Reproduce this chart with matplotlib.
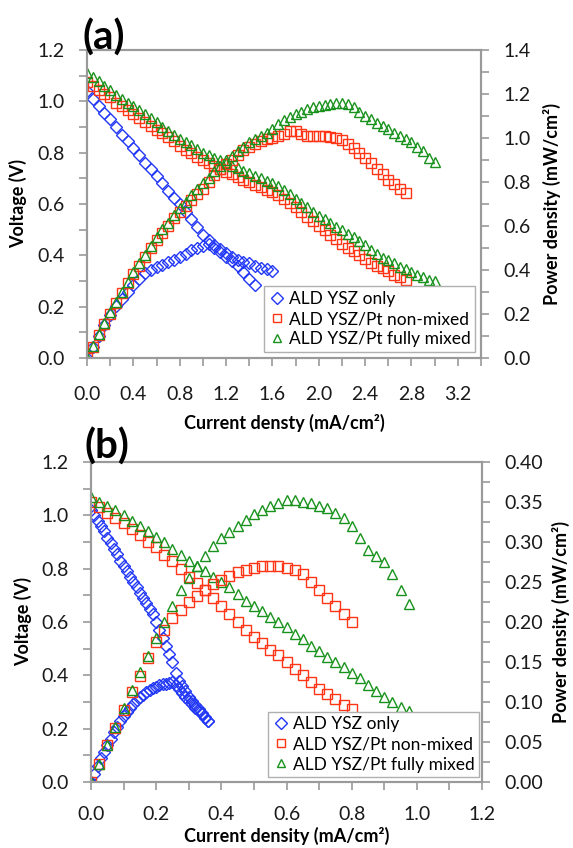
import matplotlib.pyplot as plt
from matplotlib.ticker import MultipleLocator, FormatStrFormatter

plt.rcParams['font.family'] = ['Lato', 'DejaVu Sans']

labels = ['ALD YSZ only', 'ALD YSZ/Pt non-mixed', 'ALD YSZ/Pt fully mixed']
colors = ['#2238f5', '#ff3516', '#18921c']
markers = ['D', 's', '^']
msizes = [6.0, 7.0, 7.5]

# ---- panel (a): current density grid (mA/cm2), each series uses the first N points
cur_a = [0.0, 0.05, 0.1, 0.15, 0.2, 0.25, 0.3, 0.35, 0.4, 0.45, 0.5, 0.55, 0.6, 0.65, 0.7,
         0.75, 0.8, 0.85, 0.9, 0.95, 1.0, 1.05, 1.1, 1.15, 1.2, 1.25, 1.3, 1.35, 1.4, 1.45,
         1.5, 1.55, 1.6, 1.65, 1.7, 1.75, 1.8, 1.85, 1.9, 1.95, 2.0, 2.05, 2.1, 2.15, 2.2,
         2.25, 2.3, 2.35, 2.4, 2.45, 2.5, 2.55, 2.6, 2.65, 2.7, 2.75, 2.8, 2.85, 2.9, 2.95, 3.0]

volt_a_blue = [1.04, 1.01, 0.98, 0.955, 0.93, 0.90, 0.87, 0.845, 0.82, 0.79, 0.76, 0.735,
               0.71, 0.68, 0.65, 0.625, 0.60, 0.57, 0.54, 0.51, 0.48, 0.46, 0.44, 0.425,
               0.41, 0.395, 0.38, 0.375, 0.37, 0.36, 0.35, 0.345, 0.34]
pow_a_blue = [0, 0.05, 0.10, 0.15, 0.195, 0.235, 0.27, 0.30, 0.33, 0.36, 0.385, 0.40,
              0.415, 0.425, 0.435, 0.445, 0.46, 0.475, 0.49, 0.50, 0.51, 0.52, 0.50, 0.48,
              0.46, 0.44, 0.42, 0.39, 0.36, 0.33]

volt_a_red = [1.075, 1.06, 1.045, 1.03, 1.015, 0.995, 0.98, 0.965, 0.95, 0.935,
              0.92, 0.905, 0.89, 0.875, 0.86, 0.845, 0.825, 0.81, 0.80, 0.785,
              0.77, 0.76, 0.75, 0.735, 0.725, 0.715, 0.705, 0.695, 0.685, 0.675,
              0.665, 0.655, 0.645, 0.635, 0.62, 0.605, 0.59, 0.57, 0.55, 0.535,
              0.515, 0.50, 0.48, 0.465, 0.445, 0.43, 0.415, 0.40, 0.385, 0.37,
              0.36, 0.35, 0.34, 0.325, 0.315, 0.305]
pow_a_red = [0, 0.05, 0.105, 0.155, 0.20, 0.25, 0.295, 0.34, 0.38, 0.42,
             0.46, 0.50, 0.535, 0.57, 0.60, 0.635, 0.665, 0.69, 0.72, 0.745,
             0.77, 0.80, 0.83, 0.86, 0.88, 0.90, 0.925, 0.945, 0.96, 0.975,
             0.985, 0.995, 1.0, 1.01, 1.02, 1.03, 1.03, 1.02, 1.01, 1.01,
             1.01, 1.01, 1.005, 1.0, 0.99, 0.975, 0.955, 0.93, 0.91, 0.885,
             0.86, 0.835, 0.81, 0.79, 0.77, 0.75]

volt_a_green = [1.11, 1.095, 1.08, 1.06, 1.045, 1.025, 1.01, 0.995, 0.98, 0.965,
                0.95, 0.935, 0.92, 0.90, 0.885, 0.87, 0.855, 0.84, 0.83, 0.815,
                0.80, 0.79, 0.78, 0.77, 0.76, 0.75, 0.74, 0.73, 0.72, 0.71,
                0.70, 0.69, 0.68, 0.67, 0.655, 0.64, 0.62, 0.605, 0.59, 0.57,
                0.555, 0.54, 0.525, 0.51, 0.50, 0.485, 0.47, 0.455, 0.44, 0.42,
                0.405, 0.39, 0.38, 0.37, 0.355, 0.345, 0.335, 0.325, 0.315, 0.305, 0.30]
pow_a_green = [0, 0.055, 0.11, 0.16, 0.21, 0.255, 0.30, 0.345, 0.39, 0.43,
               0.47, 0.51, 0.55, 0.585, 0.615, 0.65, 0.68, 0.71, 0.74, 0.77,
               0.795, 0.82, 0.85, 0.875, 0.90, 0.92, 0.94, 0.96, 0.98, 0.995,
               1.01, 1.025, 1.04, 1.065, 1.08, 1.095, 1.11, 1.12, 1.13, 1.14,
               1.145, 1.15, 1.155, 1.16, 1.16, 1.155, 1.14, 1.12, 1.10, 1.085,
               1.07, 1.055, 1.04, 1.025, 1.01, 0.995, 0.98, 0.96, 0.94, 0.91, 0.89]

# ---- panel (b)
cur_b_blue = [0.0, 0.01, 0.02, 0.03, 0.04, 0.05, 0.06, 0.07, 0.08, 0.09, 0.10, 0.11, 0.12,
              0.13, 0.14, 0.15, 0.16, 0.17, 0.18, 0.19, 0.20, 0.21, 0.22, 0.23, 0.24, 0.25,
              0.26, 0.27, 0.28, 0.29, 0.30, 0.31, 0.32, 0.33, 0.34, 0.35, 0.36]
volt_b_blue = [1.02, 1.00, 0.98, 0.96, 0.94, 0.915, 0.895, 0.875, 0.855, 0.83, 0.81, 0.79,
               0.77, 0.75, 0.73, 0.71, 0.69, 0.67, 0.65, 0.63, 0.60, 0.57, 0.54, 0.51,
               0.48, 0.45, 0.41, 0.38, 0.36, 0.34, 0.32, 0.305, 0.29, 0.275, 0.26, 0.245, 0.23]
pow_b_blue = [0, 0.01, 0.02, 0.03, 0.038, 0.046, 0.054, 0.062, 0.069, 0.076, 0.082, 0.088,
              0.093, 0.098, 0.102, 0.106, 0.109, 0.112, 0.115, 0.117, 0.119, 0.121, 0.122,
              0.123, 0.124, 0.125, 0.121, 0.116, 0.111, 0.106, 0.101, 0.097, 0.093, 0.089,
              0.085, 0.08, 0.076]

cur_b = [0.0, 0.025, 0.05, 0.075, 0.1, 0.125, 0.15, 0.175, 0.2, 0.225, 0.25, 0.275, 0.3,
         0.325, 0.35, 0.375, 0.4, 0.425, 0.45, 0.475, 0.5, 0.525, 0.55, 0.575, 0.6, 0.625,
         0.65, 0.675, 0.7, 0.725, 0.75, 0.775, 0.8, 0.825, 0.85, 0.875, 0.9, 0.925, 0.95, 0.975]
volt_b_red = [1.05, 1.03, 1.01, 0.99, 0.97, 0.95, 0.925, 0.90, 0.88, 0.85, 0.83, 0.80,
              0.77, 0.745, 0.72, 0.69, 0.66, 0.63, 0.60, 0.57, 0.545, 0.52, 0.495, 0.475,
              0.45, 0.425, 0.40, 0.375, 0.35, 0.33, 0.31, 0.29, 0.275]
pow_b_red = [0, 0.023, 0.046, 0.068, 0.09, 0.112, 0.133, 0.155, 0.175, 0.19, 0.205, 0.215,
             0.225, 0.233, 0.24, 0.247, 0.253, 0.258, 0.262, 0.265, 0.268, 0.27, 0.27,
             0.27, 0.268, 0.265, 0.26, 0.25, 0.24, 0.23, 0.22, 0.21, 0.20]
volt_b_green = [1.07, 1.05, 1.035, 1.02, 1.0, 0.98, 0.96, 0.94, 0.92, 0.90, 0.875, 0.85,
                0.83, 0.81, 0.79, 0.77, 0.75, 0.73, 0.705, 0.68, 0.66, 0.64, 0.62, 0.60,
                0.58, 0.555, 0.535, 0.51, 0.49, 0.47, 0.45, 0.43, 0.41, 0.39, 0.365, 0.34,
                0.32, 0.30, 0.28, 0.265]
pow_b_green = [0, 0.023, 0.046, 0.069, 0.092, 0.115, 0.137, 0.158, 0.18, 0.20, 0.22, 0.24,
               0.255, 0.27, 0.283, 0.295, 0.305, 0.313, 0.32, 0.328, 0.335, 0.34, 0.345,
               0.349, 0.352, 0.352, 0.35, 0.349, 0.345, 0.342, 0.336, 0.33, 0.32, 0.305,
               0.29, 0.283, 0.275, 0.26, 0.24, 0.223]

GRAY = '#9a9a9a'
W, H = 573, 848


def px_rect(left, top, right, bottom):
    return [left / W, 1 - bottom / H, (right - left) / W, (bottom - top) / H]


def style_axis(ax, xpad):
    for s in ax.spines.values():
        s.set_color(GRAY)
        s.set_linewidth(1.5)
    ax.tick_params(which='both', direction='out', color=GRAY, width=1.2, length=6,
                   labelsize=14, labelcolor='#1a1a1a')
    ax.tick_params(axis='x', pad=xpad)


def draw_panel(rect, xs, volts, pows, xmax, xmaj, pmax, pmaj, pfmt, xlabel, xpad, leg_anchor,
               xlab_y, ylab_x, ylab2_x):
    ax = fig.add_axes(rect)
    ax2 = ax.twinx()
    handles = []
    for i in range(3):
        h, = ax.plot(xs[i][:len(volts[i])], volts[i], linestyle='none', marker=markers[i],
                     ms=msizes[i], mfc='none', mec=colors[i], mew=1.0, label=labels[i])
        ax2.plot(xs[i][:len(pows[i])], pows[i], linestyle='none', marker=markers[i],
                 ms=msizes[i], mfc='none', mec=colors[i], mew=1.0)
        handles.append(h)

    ax.set_xlim(0, xmax)
    ax.set_ylim(0, 1.2)
    ax2.set_ylim(0, pmax)
    ax.xaxis.set_major_locator(MultipleLocator(xmaj))
    ax.xaxis.set_minor_locator(MultipleLocator(xmaj / 2))
    ax.xaxis.set_major_formatter(FormatStrFormatter('%.1f'))
    ax.yaxis.set_major_locator(MultipleLocator(0.2))
    ax.yaxis.set_minor_locator(MultipleLocator(0.1))
    ax.yaxis.set_major_formatter(FormatStrFormatter('%.1f'))
    ax2.yaxis.set_major_locator(MultipleLocator(pmaj))
    ax2.yaxis.set_minor_locator(MultipleLocator(pmaj / 2))
    ax2.yaxis.set_major_formatter(FormatStrFormatter(pfmt))

    style_axis(ax, xpad)
    style_axis(ax2, xpad)
    ax.tick_params(axis='y', pad=10)
    ax2.tick_params(axis='y', pad=10)

    ax.set_xlabel(xlabel, fontsize=13, fontweight='bold')
    ax.xaxis.set_label_coords(0.5, xlab_y)
    ax.set_ylabel('Voltage (V)', fontsize=13, fontweight='bold')
    ax.yaxis.set_label_coords(ylab_x, 0.5)
    ax2.set_ylabel('Power density (mW/cm²)', fontsize=13, fontweight='bold', rotation=90)
    ax2.yaxis.set_label_coords(ylab2_x, 0.5)

    leg = ax2.legend(handles=handles, loc='lower right', bbox_to_anchor=leg_anchor,
                     fontsize=12.5, frameon=True, fancybox=False, framealpha=1,
                     edgecolor='#b0b0b0', handlelength=1.0, handletextpad=0.2,
                     labelspacing=0.25, borderpad=0.25, borderaxespad=0)
    leg.get_frame().set_linewidth(1.0)
    for hl in leg.legend_handles:
        hl.set_markersize(6)
    return ax, ax2


fig = plt.figure(figsize=(W / 100, H / 100), dpi=100)

draw_panel(px_rect(87, 50, 481, 358), [cur_a, cur_a, cur_a],
           [volt_a_blue, volt_a_red, volt_a_green], [pow_a_blue, pow_a_red, pow_a_green],
           3.4, 0.4, 1.4, 0.2, '%.1f', 'Current densty (mA/cm²)', 14, (0.985, 0.02),
           -0.18, -0.152, 1.157)

draw_panel(px_rect(91, 462, 482, 782), [cur_b_blue, cur_b, cur_b],
           [volt_b_blue, volt_b_red, volt_b_green], [pow_b_blue, pow_b_red, pow_b_green],
           1.2, 0.2, 0.40, 0.05, '%.2f', 'Current density (mA/cm²)', 11, (0.992, 0.016),
           -0.14, -0.151, 1.18)

fig.text(82 / W, 1 - 38 / H, '(a)', fontsize=29, fontweight='bold', ha='left', va='center')
fig.text(84 / W, 1 - 447 / H, '(b)', fontsize=29, fontweight='bold', ha='left', va='center')

fig.savefig('out.png', dpi=100)
